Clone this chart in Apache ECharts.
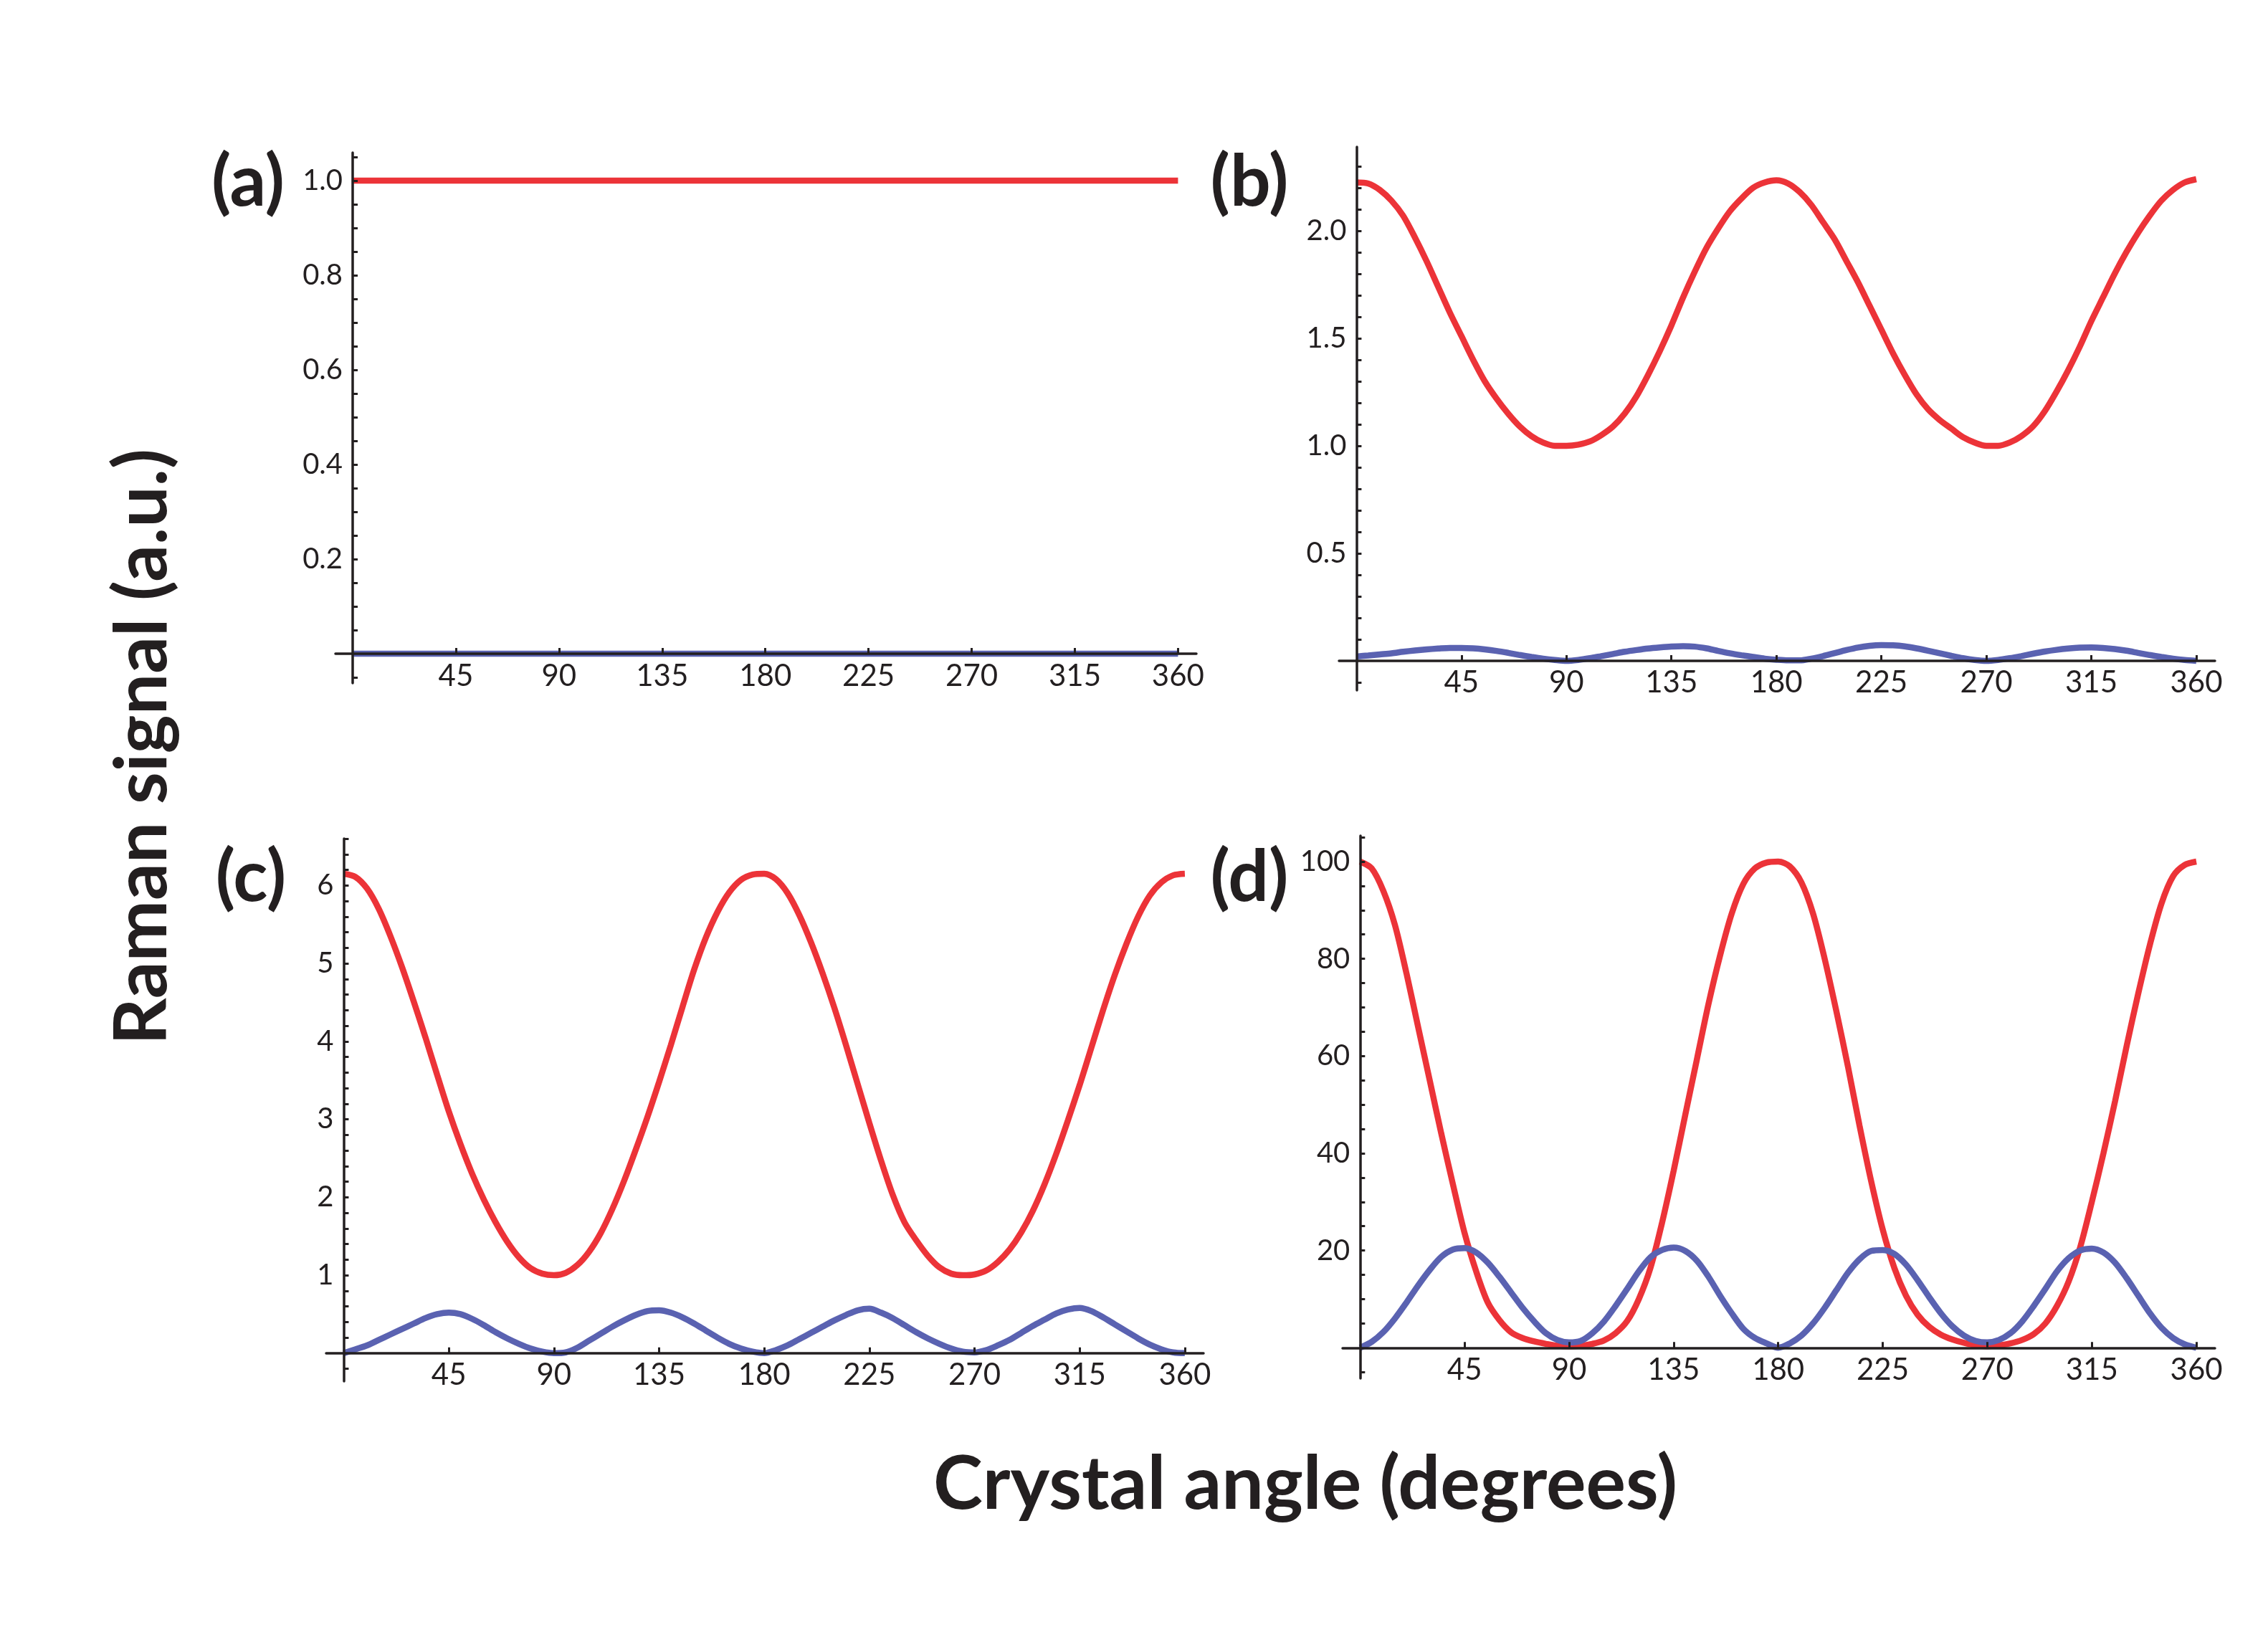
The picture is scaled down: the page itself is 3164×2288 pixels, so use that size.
<!DOCTYPE html>
<html>
<head>
<meta charset="utf-8">
<script src="https://cdn.jsdelivr.net/npm/echarts@6/dist/echarts.min.js"></script>
<style>
  html, body { margin: 0; padding: 0; background: #fff; }
  #chart { width: 3164px; height: 2288px; }
</style>
</head>
<body>
<div id="chart"></div>
<script>
// crystal angle (degrees), one reading every 5 degrees
var angles = [0,5,10,15,20,25,30,35,40,45,50,55,60,65,70,75,80,85,90,95,100,105,110,115,120,125,130,135,140,145,150,155,160,165,170,175,180,185,190,195,200,205,210,215,220,225,230,235,240,245,250,255,260,265,270,275,280,285,290,295,300,305,310,315,320,325,330,335,340,345,350,355,360];

// (a) flat lines
var anglesA = [0, 360];
var redA = [1, 1];
var blueA = [0, 0];

// (b)
var redB = [2.225,2.22,2.19,2.14,2.07,1.97,1.86,1.74,1.62,1.51,1.40,1.30,1.22,1.15,1.09,1.045,1.015,1.00,1.00,1.005,1.02,1.05,1.09,1.15,1.23,1.33,1.44,1.56,1.69,1.81,1.92,2.01,2.09,2.15,2.20,2.225,2.235,2.22,2.18,2.12,2.04,1.96,1.86,1.76,1.65,1.54,1.43,1.33,1.24,1.17,1.12,1.08,1.04,1.015,1.00,1.00,1.015,1.045,1.09,1.16,1.25,1.35,1.46,1.58,1.69,1.80,1.90,1.99,2.07,2.14,2.19,2.225,2.24];
var blueB = [0.02,0.025,0.03,0.035,0.042,0.048,0.053,0.057,0.06,0.06,0.058,0.053,0.046,0.037,0.027,0.018,0.01,0.004,0,0.004,0.012,0.022,0.032,0.042,0.05,0.057,0.062,0.066,0.068,0.066,0.058,0.046,0.035,0.026,0.018,0.01,0.005,0.002,0.002,0.01,0.022,0.036,0.05,0.062,0.07,0.073,0.072,0.067,0.058,0.047,0.035,0.023,0.012,0.004,0,0.004,0.012,0.022,0.033,0.043,0.051,0.057,0.061,0.062,0.06,0.055,0.047,0.037,0.027,0.018,0.01,0.004,0];

// (c)
var redC = [6.15,6.11,5.96,5.70,5.35,4.95,4.51,4.05,3.57,3.10,2.68,2.30,1.97,1.68,1.43,1.23,1.09,1.02,1.00,1.03,1.13,1.30,1.54,1.85,2.21,2.61,3.03,3.48,3.95,4.44,4.92,5.33,5.66,5.91,6.07,6.14,6.15,6.08,5.90,5.62,5.27,4.87,4.43,3.95,3.45,2.95,2.47,2.03,1.68,1.45,1.25,1.10,1.02,1.00,1.01,1.06,1.17,1.33,1.55,1.83,2.17,2.56,2.99,3.44,3.92,4.40,4.85,5.25,5.60,5.87,6.04,6.13,6.15];
var blueC = [0,0.05,0.1,0.17,0.24,0.31,0.38,0.45,0.5,0.52,0.5,0.44,0.36,0.27,0.19,0.12,0.06,0.02,0,0.01,0.07,0.16,0.25,0.34,0.42,0.49,0.54,0.55,0.52,0.46,0.38,0.29,0.2,0.12,0.06,0.02,0,0.04,0.1,0.18,0.26,0.34,0.42,0.49,0.55,0.57,0.52,0.45,0.36,0.27,0.19,0.12,0.06,0.02,0.01,0.04,0.1,0.17,0.26,0.35,0.43,0.51,0.56,0.58,0.54,0.46,0.37,0.28,0.19,0.11,0.05,0.01,0];

// (d)
var redD = [100,98.6,94,87,77,66,55,44,33.6,23.6,15.7,9.3,5.7,3.2,2.0,1.3,0.8,0.4,0.3,0.4,0.8,1.5,3.0,5.5,10,16.4,25.7,36.4,47.9,59.3,70.7,80.7,89.3,95.4,98.6,99.8,100,99,95.7,89.3,80,69.3,57.9,45.7,34.3,24.3,16.4,10.7,6.8,4.3,2.7,1.7,1.0,0.5,0.3,0.5,0.9,1.6,2.8,5.0,8.6,13.6,20.7,30,40,50.7,62.1,72.9,82.9,91.4,97,99.3,100];
var blueD = [0,1.2,3.2,6.0,9.3,12.8,16.0,18.7,20.2,20.5,19.6,17.5,14.6,11.4,8.2,5.4,3.0,1.6,1.1,1.4,3.0,5.4,8.6,12.1,15.7,18.6,20.1,20.6,19.9,17.9,14.6,10.7,7.1,3.9,2.0,0.9,0,0.9,2.5,5,8.2,11.8,15.4,18.2,19.9,20.1,19.3,17.1,13.9,10.4,7.1,4.4,2.5,1.4,1.1,1.6,3.0,5.4,8.6,12.1,15.7,18.4,20,20.4,19.6,17.5,14.3,10.7,7.1,4.1,2.0,0.7,0];

// tick positions
var xTicks = [45, 90, 135, 180, 225, 270, 315, 360];
var yTicksA = [-0.05,0.05,0.1,0.15,0.2,0.25,0.3,0.35,0.4,0.45,0.5,0.55,0.6,0.65,0.7,0.75,0.8,0.85,0.9,0.95,1.0,1.05];
var yLabelsA = [0.2, 0.4, 0.6, 0.8, 1.0];
var yTicksB = [-0.1,0.1,0.2,0.3,0.4,0.5,0.6,0.7,0.8,0.9,1.0,1.1,1.2,1.3,1.4,1.5,1.6,1.7,1.8,1.9,2.0,2.1,2.2,2.3];
var yLabelsB = [0.5, 1.0, 1.5, 2.0];
var yTicksC = [-0.2,0.2,0.4,0.6,0.8,1,1.2,1.4,1.6,1.8,2,2.2,2.4,2.6,2.8,3,3.2,3.4,3.6,3.8,4,4.2,4.4,4.6,4.8,5,5.2,5.4,5.6,5.8,6,6.2,6.4,6.6];
var yLabelsC = [1, 2, 3, 4, 5, 6];
var yTicksD = [-5,5,10,15,20,25,30,35,40,45,50,55,60,65,70,75,80,85,90,95,100,105];
var yLabelsD = [20, 40, 60, 80, 100];

var ink = '#231f20';
var red = '#ec3338';
var blue = '#5a62b1';

// plot boxes: grid rect + axis ranges; axes crossing at (0,0) are moved in with offset
var xMin = -7.5, xMax = 368;
var panels = [
  { left: 468, top: 213, width: 1201, height: 740, yMin: -0.062, yMax: 1.059 },
  { left: 1868, top: 205, width: 1222, height: 758, yMin: -0.137, yMax: 2.39 },
  { left: 455, top: 1170, width: 1224, height: 757, yMin: -0.36, yMax: 6.6 },
  { left: 1873, top: 1166, width: 1217, height: 757, yMin: -6.3, yMax: 105.3 }
];

function zip(xs, ys) {
  var out = [];
  for (var i = 0; i < xs.length; i++) out.push([xs[i], ys[i]]);
  return out;
}

function xAxisFor(idx) {
  var p = panels[idx];
  var shift = (0 - p.yMin) / (p.yMax - p.yMin) * p.height;
  return {
    type: 'value', gridIndex: idx, min: xMin, max: xMax, z: 5,
    position: 'bottom', offset: -shift,
    axisLine: { onZero: false, lineStyle: { color: ink, width: 3.5 } },
    axisTick: { inside: true, length: 8, customValues: xTicks, lineStyle: { color: ink, width: 3 } },
    axisLabel: { customValues: xTicks, margin: 10, color: ink, fontSize: 42, fontFamily: 'Lato' },
    splitLine: { show: false }
  };
}

function yAxisFor(idx, ticks, labels, digits) {
  var p = panels[idx];
  var shift = (0 - xMin) / (xMax - xMin) * p.width;
  return {
    type: 'value', gridIndex: idx, min: p.yMin, max: p.yMax, z: 5,
    position: 'left', offset: -shift,
    axisLine: { onZero: false, lineStyle: { color: ink, width: 3.5 } },
    axisTick: { inside: true, length: 7, customValues: ticks, lineStyle: { color: ink, width: 3 } },
    axisLabel: {
      customValues: labels, margin: 14, color: ink, fontSize: 40, fontFamily: 'Lato',
      formatter: function (v) { return Number(v).toFixed(digits); }
    },
    splitLine: { show: false }
  };
}

function lineSeries(idx, data, color) {
  return {
    type: 'line', xAxisIndex: idx, yAxisIndex: idx, data: data,
    showSymbol: false, smooth: 0.3, z: 3,
    lineStyle: { color: color, width: 8.5 },
    silent: true
  };
}

function label(text, x, y, size, rot) {
  return {
    type: 'text', x: x, y: y, rotation: rot || 0, z: 10,
    style: {
      text: text, fill: ink, fontSize: size, fontWeight: 'bold', fontFamily: 'Lato',
      textAlign: 'center', align: 'center', textVerticalAlign: 'middle', verticalAlign: 'middle'
    }
  };
}

var chart = echarts.init(document.getElementById('chart'));
chart.setOption({
  backgroundColor: '#ffffff',
  animation: false,
  grid: panels.map(function (p) {
    return { left: p.left, top: p.top, width: p.width, height: p.height };
  }),
  xAxis: [xAxisFor(0), xAxisFor(1), xAxisFor(2), xAxisFor(3)],
  yAxis: [
    yAxisFor(0, yTicksA, yLabelsA, 1),
    yAxisFor(1, yTicksB, yLabelsB, 1),
    yAxisFor(2, yTicksC, yLabelsC, 0),
    yAxisFor(3, yTicksD, yLabelsD, 0)
  ],
  series: [
    lineSeries(0, zip(anglesA, blueA), blue),
    lineSeries(0, zip(anglesA, redA), red),
    lineSeries(1, zip(angles, blueB), blue),
    lineSeries(1, zip(angles, redB), red),
    lineSeries(2, zip(angles, blueC), blue),
    lineSeries(2, zip(angles, redC), red),
    lineSeries(3, zip(angles, redD), red),
    lineSeries(3, zip(angles, blueD), blue)
  ],
  graphic: [
    label('(a)', 346, 255, 100),
    label('(b)', 1743, 255, 100),
    label('(c)', 350, 1225, 100),
    label('(d)', 1743, 1225, 100),
    label('Raman signal (a.u.)', 199, 1042, 102, Math.PI / 2),
    label('Crystal angle (degrees)', 1821, 2071, 104)
  ]
});
</script>
</body>
</html>
